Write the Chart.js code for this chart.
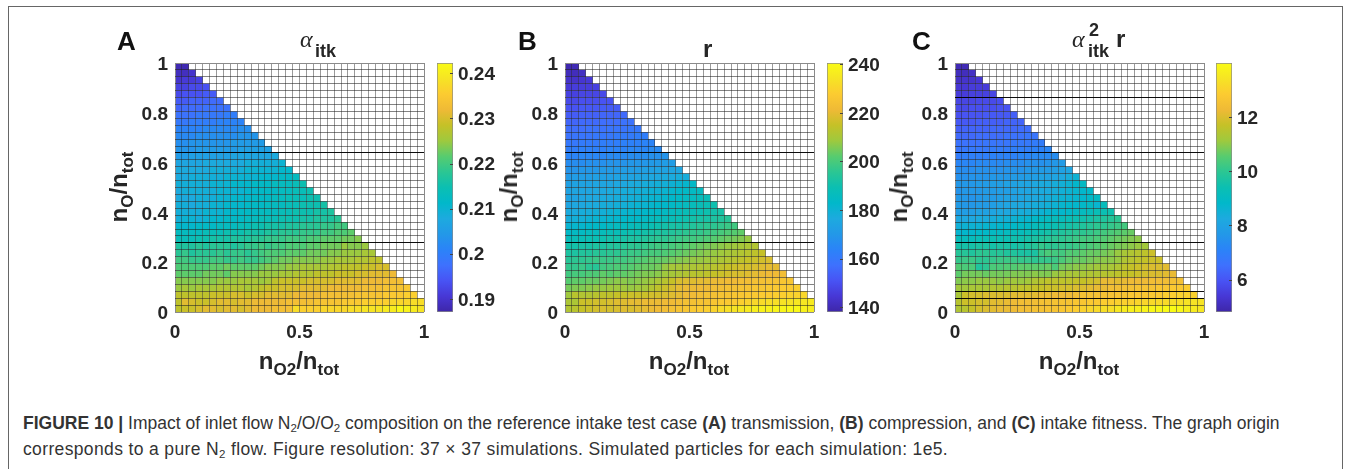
<!DOCTYPE html>
<html>
<head>
<meta charset="utf-8">
<title>Figure 10</title>
<script src="https://cdn.jsdelivr.net/npm/chart.js@4/dist/chart.umd.min.js"></script>
<style>
html,body{margin:0;padding:0;background:#fff;width:1356px;height:469px;overflow:hidden;font-family:"Liberation Sans",Arial,sans-serif;}
canvas{position:absolute;}
#frame{position:absolute;left:8px;top:6px;width:1335px;height:480px;border:1px solid #666;box-sizing:border-box;}
.txt{position:absolute;white-space:nowrap;color:#262626;font-weight:bold;}
.letter{font-size:26px;line-height:26px;color:#111;}
.axt{font-size:24px;line-height:32px;transform:translate(-50%,-50%);}
.axt.rot{transform:translate(-50%,-50%) rotate(-90deg);}
.axt sub{font-size:17px;vertical-align:-6px;line-height:0;}
.sym{font-family:"Liberation Serif",serif;font-style:italic;font-weight:normal;font-size:24px;line-height:24px;}
.small{font-size:18px;line-height:18px;}
.cap{position:absolute;left:23px;white-space:nowrap;font-size:17.5px;line-height:20px;color:#333;}
.cap sub{font-size:11.5px;vertical-align:-3px;line-height:0;}
</style>
</head>
<body>
<div id="frame"></div>
<canvas id="mapA" width="319" height="299" style="left:115px;top:53px"></canvas>
<canvas id="barA" width="76" height="269" style="left:437px;top:53px"></canvas>
<canvas id="mapB" width="319" height="299" style="left:505px;top:53px"></canvas>
<canvas id="barB" width="76" height="269" style="left:827px;top:53px"></canvas>
<canvas id="mapC" width="319" height="299" style="left:895px;top:53px"></canvas>
<canvas id="barC" width="76" height="269" style="left:1216px;top:53px"></canvas>

<div class="txt letter" style="left:117px;top:28px">A</div>
<div class="txt letter" style="left:518px;top:28px">B</div>
<div class="txt letter" style="left:912px;top:28px">C</div>

<div class="txt sym" style="left:300px;top:27px">α</div>
<div class="txt small" style="left:315px;top:42px">itk</div>
<div class="txt" style="left:703px;top:37px;font-size:24px;line-height:24px">r</div>
<div class="txt sym" style="left:1072px;top:27px">α</div>
<div class="txt small" style="left:1089px;top:21px">2</div>
<div class="txt small" style="left:1088px;top:42px">itk</div>
<div class="txt" style="left:1116px;top:27px;font-size:24px;line-height:24px">r</div>

<div class="txt axt rot" style="left:119px;top:187px">n<sub>O</sub>/n<sub>tot</sub></div>
<div class="txt axt rot" style="left:509px;top:187px">n<sub>O</sub>/n<sub>tot</sub></div>
<div class="txt axt rot" style="left:899px;top:187px">n<sub>O</sub>/n<sub>tot</sub></div>
<div class="txt axt" style="left:299px;top:361px">n<sub>O2</sub>/n<sub>tot</sub></div>
<div class="txt axt" style="left:689px;top:361px">n<sub>O2</sub>/n<sub>tot</sub></div>
<div class="txt axt" style="left:1079px;top:361px">n<sub>O2</sub>/n<sub>tot</sub></div>

<div class="cap" style="top:413px"><b>FIGURE 10 | </b>Impact of inlet flow N<sub>2</sub>/O/O<sub>2</sub> composition on the reference intake test case <b>(A)</b> transmission, <b>(B)</b> compression, and <b>(C)</b> intake fitness. The graph origin</div>
<div class="cap" style="top:439px;letter-spacing:.36px">corresponds to a pure N<sub>2</sub> flow. Figure resolution: 37 × 37 simulations. Simulated particles for each simulation: 1e5.</div>

<script>
// grid is 36 x 36 visible cells, rows listed top to bottom
const gridSteps = 36;
const xLabels = [0, 0.5, 1];
const yLabels = [0, 0.2, 0.4, 0.6, 0.8, 1];

const alphaTicks = [0.19, 0.2, 0.21, 0.22, 0.23, 0.24];
const alphaRange = [0.1872, 0.2424];
const alphaDark = [13, 26];
const alphaRows = [
[.188,.188],
[.189,.189,.190],
[.190,.191,.191,.192],
[.192,.192,.193,.193,.194],
[.193,.194,.194,.194,.195,.195],
[.195,.195,.196,.196,.196,.197,.197],
[.196,.197,.197,.197,.198,.198,.198,.198],
[.198,.198,.198,.199,.199,.199,.199,.200,.200],
[.199,.199,.200,.200,.200,.200,.201,.201,.201,.201],
[.201,.201,.201,.201,.202,.202,.202,.202,.202,.203,.203],
[.202,.202,.202,.203,.203,.203,.203,.203,.203,.204,.204,.204],
[.203,.203,.204,.204,.204,.204,.204,.204,.205,.205,.205,.205,.205],
[.204,.204,.204,.205,.205,.205,.205,.205,.205,.206,.206,.206,.206,.206],
[.205,.205,.206,.206,.206,.206,.206,.206,.207,.207,.207,.207,.207,.207,.208],
[.207,.207,.207,.207,.208,.208,.208,.208,.208,.208,.209,.209,.209,.209,.209,.210],
[.208,.208,.208,.208,.208,.209,.209,.209,.209,.209,.210,.210,.210,.210,.210,.211,.211],
[.208,.208,.209,.209,.209,.209,.209,.210,.210,.210,.210,.210,.211,.211,.211,.212,.212,.213],
[.209,.209,.209,.209,.209,.210,.210,.210,.211,.211,.211,.212,.212,.212,.213,.213,.213,.214,.215],
[.208,.209,.209,.209,.209,.209,.210,.210,.210,.210,.211,.211,.212,.212,.212,.213,.213,.214,.214,.215],
[.208,.208,.208,.209,.209,.209,.210,.210,.211,.211,.211,.212,.212,.212,.213,.213,.214,.214,.214,.215,.215],
[.209,.209,.208,.209,.209,.210,.210,.211,.211,.211,.212,.212,.212,.213,.213,.213,.214,.214,.215,.215,.215,.216],
[.209,.209,.209,.209,.210,.210,.210,.211,.211,.212,.212,.212,.213,.213,.213,.214,.214,.215,.215,.215,.216,.216,.217],
[.209,.210,.210,.209,.210,.211,.211,.212,.212,.212,.213,.213,.214,.214,.214,.215,.215,.215,.216,.216,.217,.217,.217,.218],
[.211,.211,.211,.212,.212,.212,.213,.213,.213,.214,.214,.215,.215,.216,.216,.216,.217,.217,.218,.218,.218,.219,.219,.220,.220],
[.213,.213,.213,.213,.214,.214,.214,.215,.215,.215,.216,.216,.216,.217,.217,.218,.218,.218,.219,.219,.219,.220,.220,.221,.221,.222],
[.214,.214,.214,.215,.215,.216,.216,.216,.217,.217,.217,.218,.218,.219,.219,.219,.220,.220,.220,.221,.221,.222,.222,.222,.223,.223,.224],
[.217,.217,.217,.218,.217,.218,.218,.218,.217,.218,.219,.219,.220,.219,.220,.220,.221,.221,.221,.222,.222,.223,.223,.223,.225,.224,.224,.225],
[.218,.219,.217,.218,.218,.218,.219,.218,.219,.219,.218,.219,.220,.221,.221,.221,.222,.222,.222,.223,.223,.223,.224,.224,.225,.225,.225,.226,.226],
[.220,.220,.219,.219,.219,.220,.220,.219,.219,.220,.219,.219,.220,.221,.222,.223,.223,.224,.224,.224,.224,.225,.225,.226,.226,.226,.227,.227,.228,.228],
[.221,.221,.221,.221,.221,.222,.222,.223,.222,.222,.222,.222,.223,.224,.224,.224,.225,.225,.226,.226,.226,.226,.227,.227,.228,.228,.228,.229,.229,.230,.230],
[.222,.222,.222,.222,.223,.223,.223,.222,.224,.224,.224,.224,.225,.225,.225,.226,.226,.227,.227,.227,.228,.228,.228,.229,.229,.229,.230,.230,.231,.231,.231,.232],
[.224,.224,.224,.224,.224,.224,.225,.225,.225,.226,.226,.226,.225,.226,.228,.229,.229,.229,.229,.230,.230,.230,.230,.231,.231,.231,.231,.232,.232,.232,.233,.233,.233],
[.225,.226,.225,.226,.226,.226,.227,.227,.227,.227,.226,.227,.228,.229,.229,.230,.230,.230,.231,.231,.231,.231,.232,.232,.232,.232,.232,.233,.233,.233,.234,.234,.234,.235],
[.228,.228,.228,.228,.228,.229,.229,.229,.230,.230,.229,.230,.230,.231,.231,.231,.231,.232,.232,.232,.232,.233,.233,.233,.233,.233,.234,.234,.234,.234,.235,.235,.235,.236,.236],
[.228,.231,.230,.229,.229,.230,.231,.231,.230,.231,.231,.232,.232,.232,.232,.232,.233,.233,.233,.233,.234,.234,.234,.234,.235,.235,.235,.236,.236,.236,.236,.237,.237,.237,.238,.238],
[.228,.229,.229,.230,.231,.231,.230,.231,.231,.230,.231,.232,.232,.232,.233,.233,.233,.238,.236,.236,.236,.237,.237,.237,.237,.238,.238,.239,.239,.239,.240,.240,.242,.241,.240,.239]
];

const ratioTicks = [140, 160, 180, 200, 220, 240];
const ratioRange = [138.2, 240.7];
const ratioDark = [13, 26];
const ratioRows = [
[139,140],
[141,141,142],
[143,143,144,145],
[145,146,146,146,147],
[147,147,148,148,148,149],
[149,149,150,150,150,151,151],
[151,151,152,152,152,153,153,153],
[153,153,154,154,154,155,155,155,156],
[155,155,156,156,156,157,157,157,158,158],
[157,157,157,158,158,158,159,159,159,160,160],
[158,159,159,159,160,160,160,161,161,161,162,162],
[160,160,161,161,161,162,162,162,163,163,163,164,164],
[162,162,163,163,163,163,164,164,164,165,165,165,166,166],
[164,164,165,165,165,165,166,166,166,167,167,167,168,168,169],
[167,167,167,168,168,168,169,169,169,170,170,170,171,171,172,172],
[169,169,170,170,170,171,171,171,172,172,172,173,173,174,174,175,175],
[171,172,172,172,173,173,173,174,174,174,175,175,176,176,177,177,178,178],
[173,174,174,174,175,175,175,176,176,177,177,178,178,179,179,180,181,182,184],
[174,175,175,175,176,176,177,177,178,178,179,179,180,180,181,182,183,184,185,186],
[174,174,175,176,176,177,177,178,178,179,179,180,181,181,182,183,184,185,186,187,188],
[175,176,176,177,177,178,178,179,179,180,181,181,182,183,183,184,185,186,187,188,189,190],
[177,177,178,178,179,179,180,181,181,182,182,183,184,184,185,186,187,188,188,189,190,191,192],
[178,179,179,180,181,181,182,182,183,184,184,185,186,187,187,188,189,190,191,192,192,193,194,195],
[181,182,182,183,184,184,185,186,186,187,188,188,189,190,191,192,192,193,194,195,196,196,197,198,199],
[184,185,185,186,186,187,188,188,189,190,190,191,192,193,193,194,195,196,197,197,198,199,200,201,202,203],
[187,188,188,189,189,190,191,191,192,193,193,194,195,196,196,197,198,199,199,200,201,202,203,204,205,206,208],
[191,191,192,192,193,193,194,194,195,196,196,197,198,199,199,200,201,202,203,204,205,206,207,208,209,210,211,212],
[193,193,194,194,195,195,196,196,197,198,198,199,200,200,201,202,203,204,205,206,207,208,209,210,211,212,213,214,215],
[195,196,196,197,198,198,198,199,199,200,201,202,203,203,204,205,206,207,208,208,209,210,211,212,213,214,215,216,217,218],
[197,197,198,196,195,199,200,201,201,202,203,204,204,205,208,210,210,211,211,212,212,213,214,215,216,217,217,218,219,220,220],
[199,200,200,201,201,203,202,203,203,204,205,206,206,207,209,210,211,212,213,213,214,215,216,217,218,218,219,220,221,222,222,223],
[202,203,203,204,204,205,206,207,207,206,207,208,209,211,213,215,218,219,219,220,220,221,221,222,222,223,223,224,224,225,225,226,226],
[205,206,206,207,208,208,209,209,209,208,209,210,212,214,216,218,220,221,221,222,222,223,223,224,224,225,225,226,226,227,227,228,228,229],
[209,213,212,212,213,214,214,215,215,216,216,216,217,217,218,219,220,222,222,223,224,224,225,225,226,226,227,227,228,228,229,229,230,230,231],
[211,211,216,216,217,217,218,219,219,220,220,221,221,221,222,222,223,224,224,225,225,226,227,227,228,229,230,231,232,233,233,234,234,235,235,236],
[212,213,215,216,217,218,217,218,219,218,219,220,221,222,223,224,225,226,227,228,229,230,232,233,234,235,236,237,238,238,239,239,240,240,238,237]
];

const fitnessTicks = [6, 8, 10, 12];
const fitnessRange = [4.83, 14];
const fitnessDark = [5, 13, 26, 33, 34];
const fitnessRows = [
[5.0,5.0],
[5.1,5.1,5.2],
[5.2,5.3,5.3,5.4],
[5.4,5.4,5.5,5.5,5.5],
[5.5,5.5,5.6,5.6,5.6,5.7],
[5.7,5.7,5.7,5.8,5.8,5.8,5.9],
[5.8,5.8,5.9,5.9,5.9,5.9,6.0,6.0],
[5.9,6.0,6.0,6.0,6.1,6.1,6.1,6.1,6.2],
[6.1,6.1,6.1,6.2,6.2,6.2,6.2,6.3,6.3,6.3],
[6.2,6.3,6.3,6.3,6.3,6.4,6.4,6.4,6.4,6.5,6.5],
[6.4,6.4,6.4,6.5,6.5,6.5,6.5,6.6,6.6,6.6,6.7,6.7],
[6.6,6.6,6.6,6.6,6.7,6.7,6.7,6.7,6.8,6.8,6.8,6.9,6.9],
[6.7,6.8,6.8,6.8,6.8,6.9,6.9,6.9,7.0,7.0,7.0,7.1,7.1,7.2],
[6.9,7.0,7.0,7.0,7.0,7.1,7.1,7.1,7.1,7.2,7.2,7.3,7.3,7.3,7.4],
[7.2,7.2,7.2,7.3,7.3,7.3,7.3,7.4,7.4,7.4,7.5,7.5,7.5,7.6,7.7,7.8],
[7.4,7.4,7.4,7.5,7.5,7.5,7.5,7.6,7.6,7.6,7.7,7.7,7.8,7.8,7.9,8.0,8.1],
[7.5,7.5,7.6,7.6,7.6,7.7,7.7,7.7,7.8,7.8,7.9,7.9,8.0,8.0,8.1,8.2,8.4,8.6],
[7.7,7.7,7.7,7.8,7.8,7.9,7.9,8.0,8.0,8.1,8.1,8.2,8.3,8.3,8.4,8.5,8.6,8.8,9.0],
[7.6,7.7,7.7,7.7,7.8,7.8,7.9,7.9,8.0,8.1,8.1,8.2,8.3,8.3,8.4,8.5,8.6,8.7,8.8,8.9],
[7.7,7.7,7.6,7.7,7.8,7.8,7.9,8.0,8.0,8.1,8.2,8.2,8.3,8.4,8.5,8.6,8.6,8.7,8.8,8.9,9.0],
[7.8,7.7,7.7,7.8,7.8,7.9,8.0,8.1,8.2,8.2,8.3,8.4,8.4,8.5,8.6,8.7,8.8,8.8,8.9,9.0,8.7,9.2],
[7.9,7.9,7.9,8.0,8.0,8.1,8.2,8.2,8.3,8.4,8.4,8.5,8.6,8.7,8.8,8.8,8.9,9.0,9.1,9.2,9.3,9.4,9.5],
[8.2,8.2,8.2,8.3,8.3,8.4,8.5,8.5,8.6,8.7,8.7,8.9,9.0,9.1,9.2,9.2,9.3,9.4,9.5,9.6,9.7,9.8,9.9,10.0],
[8.5,8.6,8.6,8.6,8.7,8.7,8.8,8.8,8.9,9.0,9.0,9.2,9.3,9.3,9.4,9.5,9.6,9.7,9.8,9.9,10.0,10.0,10.1,10.2,10.3],
[8.7,8.8,8.8,8.9,8.9,9.0,9.0,9.1,9.2,9.2,9.3,9.4,9.5,9.6,9.7,9.8,9.9,10.0,10.0,10.1,10.2,10.3,10.4,10.5,10.6,10.7],
[9.2,9.2,9.2,9.3,9.3,9.4,9.4,9.4,9.5,9.5,9.6,9.7,9.8,9.9,10.0,10.0,10.1,10.2,10.3,10.3,10.4,10.5,10.6,10.7,10.8,10.9,11.0],
[9.6,9.6,9.6,9.7,9.7,9.6,9.7,9.7,9.6,9.7,9.8,9.9,10.1,10.0,10.0,10.1,10.1,10.2,10.3,10.4,10.5,10.6,10.7,10.8,10.9,11.0,11.1,11.2],
[9.9,9.9,9.8,10.0,10.0,9.9,9.9,9.8,9.8,9.7,9.7,9.7,10.2,10.4,10.3,10.3,10.5,10.5,10.6,10.7,10.7,10.8,10.9,11.1,11.3,11.4,11.5,11.6,11.8],
[10.1,10.2,10.2,10.0,10.0,10.1,10.2,10.2,10.2,10.1,10.1,10.0,10.1,10.1,10.2,10.4,10.6,10.7,10.7,10.8,10.9,11.0,11.0,11.1,11.4,11.5,11.6,11.7,11.8,11.8],
[10.5,10.4,10.4,9.8,10.0,10.4,10.4,10.5,10.5,10.6,10.6,10.6,10.6,10.7,10.4,10.8,10.9,11.0,11.0,11.1,11.2,11.2,11.3,11.4,11.6,11.7,11.8,11.9,12.0,12.0,12.1],
[10.6,10.8,10.8,10.8,10.7,10.8,10.8,10.8,10.9,10.9,10.9,11.0,10.9,10.9,11.1,11.2,11.3,11.3,11.3,11.4,11.4,11.5,11.5,11.6,11.7,11.7,11.8,11.9,12.0,12.0,12.1,12.2],
[10.9,11.0,11.0,11.1,11.1,11.1,11.0,11.1,11.2,11.1,11.2,11.4,11.5,11.6,11.6,11.6,11.6,11.7,11.7,11.8,11.9,12.2,12.2,12.1,12.2,12.3,12.3,12.3,12.4,12.4,12.4,12.5,12.5],
[11.2,11.2,11.3,11.3,11.3,11.4,11.4,11.5,11.5,11.6,11.6,11.7,11.7,11.8,11.8,11.9,11.9,12.0,12.0,12.1,12.2,12.2,12.4,12.4,12.5,12.5,12.6,12.6,12.6,12.7,12.7,12.8,12.8,12.9],
[11.3,11.8,11.9,11.9,12.0,12.0,12.0,12.0,12.1,12.1,12.1,12.1,12.2,12.2,12.3,12.3,12.3,12.4,12.5,12.5,12.5,12.5,12.5,12.6,12.6,12.7,12.7,12.7,12.8,12.8,12.9,12.9,13.0,13.0,13.0],
[11.5,11.8,11.8,11.9,11.9,12.1,12.1,12.2,12.3,12.4,12.4,12.4,12.5,12.5,12.6,12.6,12.6,12.7,12.7,12.8,12.8,12.9,12.9,13.0,13.0,13.0,13.1,13.1,13.2,13.2,13.2,13.3,13.3,13.4,13.4,13.4],
[11.4,11.5,11.7,11.9,12.0,12.1,12.2,12.2,12.3,12.4,12.4,12.5,12.5,12.6,12.6,12.7,12.8,12.9,13.0,13.1,13.2,13.3,13.3,13.5,13.6,13.7,13.7,13.8,13.9,13.9,14.0,14.0,13.9,13.7,13.6,13.5]
];

// parula, sampled
const parula = [
[62,38,168],[71,55,213],[72,83,244],[62,113,254],[43,131,248],[35,152,232],[29,170,223],[1,184,202],
[11,191,178],[43,198,147],[87,204,111],[158,201,62],[197,193,39],[239,186,54],[252,203,49],[246,228,36],[249,251,21]
];

function colorAt(t) {
    t = Math.min(1, Math.max(0, t)) * (parula.length - 1);
    const i = Math.min(parula.length - 2, Math.floor(t));
    const f = t - i;
    const c = parula[i].map((p, n) => Math.round(p + (parula[i + 1][n] - p) * f));
    return 'rgb(' + c.join(',') + ')';
}

const gridValues = [];
for (let i = 0; i <= gridSteps; i++) gridValues.push(i / gridSteps);

function isLabel(list, v) {
    return list.some(l => Math.abs(l - v) < 1e-9);
}
function isGrid(v) {
    return gridValues.some(g => Math.abs(g - v) < 1e-9);
}

function axisOptions(labels, position, size, darkLines) {
    const extra = labels.filter(l => !isGrid(l));
    const isLeft = position === 'left';
    return {
        type: 'linear',
        position: position,
        min: 0,
        max: 1,
        border: {display: false},
        afterBuildTicks: scale => {
            scale.ticks = gridValues.concat(extra).sort((a, b) => a - b).map(v => ({value: v}));
        },
        afterFit: scale => {
            if (isLeft) scale.width = size; else scale.height = size;
            scale.paddingTop = scale.paddingBottom = scale.paddingLeft = scale.paddingRight = 0;
        },
        grid: {
            z: 1,
            drawTicks: false,
            lineWidth: 1,
            color: ctx => {
                const v = ctx.tick.value;
                if (!isGrid(v)) return 'rgba(0,0,0,0)';
                if (v === 0 || v === 1) return '#8a8a8a';
                if (darkLines.some(d => Math.abs(1 - d / gridSteps - v) < 1e-9)) return 'rgba(0,0,0,0.95)';
                return isLeft ? 'rgba(30,30,30,0.55)' : 'rgba(30,30,30,0.45)';
            }
        },
        ticks: {
            autoSkip: false,
            maxRotation: 0,
            padding: isLeft ? 7 : 9,
            labelOffset: isLeft ? 2 : 0,
            color: '#262626',
            font: {family: '"Liberation Sans"', size: 19, weight: 'bold'},
            callback: v => isLabel(labels, v) ? String(v) : ''
        }
    };
}

function drawMap(id, rows, range, darkLines) {
    const cells = [];
    const colors = [];
    rows.forEach((row, k) => row.forEach((v, i) => {
        cells.push({x: (i + 0.5) / gridSteps, y: 1 - (k + 0.5) / gridSteps});
        colors.push(colorAt((v - range[0]) / (range[1] - range[0])));
    }));
    return new Chart(document.getElementById(id), {
        type: 'scatter',
        data: {datasets: [{
            data: cells,
            pointStyle: 'rect',
            pointRadius: 4.95,
            pointBorderWidth: 0,
            pointBackgroundColor: colors
        }]},
        options: {
            responsive: false,
            animation: false,
            events: [],
            layout: {padding: {top: 10, right: 10}},
            plugins: {legend: {display: false}, tooltip: {enabled: false}},
            scales: {
                x: axisOptions(xLabels, 'bottom', 40, []),
                y: axisOptions(yLabels, 'left', 60, darkLines)
            }
        }
    });
}

function drawBar(id, ticks, range) {
    return new Chart(document.getElementById(id), {
        type: 'bar',
        data: {
            labels: [''],
            datasets: [{
                data: [range],
                barPercentage: 1,
                categoryPercentage: 1,
                borderWidth: 1,
                borderColor: '#8a8a8a',
                borderSkipped: false,
                backgroundColor: ctx => {
                    const area = ctx.chart.chartArea;
                    if (!area) return '#888';
                    const g = ctx.chart.ctx.createLinearGradient(0, area.bottom, 0, area.top);
                    parula.forEach((c, i) => g.addColorStop(i / (parula.length - 1), 'rgb(' + c.join(',') + ')'));
                    return g;
                }
            }]
        },
        options: {
            responsive: false,
            animation: false,
            events: [],
            layout: {padding: {top: 10, bottom: 10}},
            plugins: {legend: {display: false}, tooltip: {enabled: false}},
            scales: {
                x: {display: false},
                y: {
                    position: 'right',
                    min: range[0],
                    max: range[1],
                    border: {display: false},
                    afterBuildTicks: scale => { scale.ticks = ticks.map(v => ({value: v})); },
                    afterFit: scale => {
                        scale.width = 60;
                        scale.paddingTop = scale.paddingBottom = 0;
                    },
                    grid: {z: 1, drawOnChartArea: false, drawTicks: true, tickLength: -3, color: '#444'},
                    ticks: {
                        autoSkip: false,
                        padding: 8,
                        labelOffset: 1,
                        color: '#262626',
                        font: {family: '"Liberation Sans"', size: 19, weight: 'bold'},
                        callback: v => String(v)
                    }
                }
            }
        }
    });
}

drawMap('mapA', alphaRows, alphaRange, alphaDark);
drawBar('barA', alphaTicks, alphaRange);
drawMap('mapB', ratioRows, ratioRange, ratioDark);
drawBar('barB', ratioTicks, ratioRange);
drawMap('mapC', fitnessRows, fitnessRange, fitnessDark);
drawBar('barC', fitnessTicks, fitnessRange);
</script>
</body>
</html>
